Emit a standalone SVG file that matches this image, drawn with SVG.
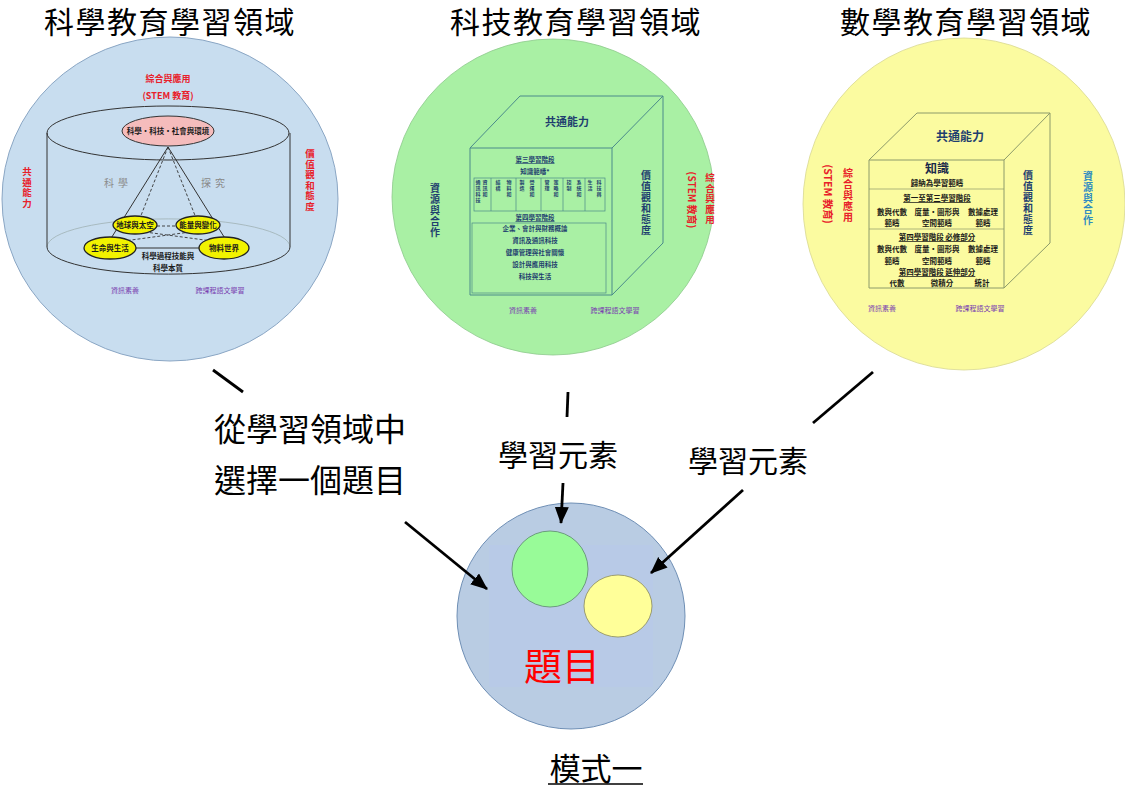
<svg xmlns="http://www.w3.org/2000/svg" width="1125" height="787" viewBox="0 0 1125 787">
<style>
.t{font-family:"Noto Sans CJK TC","Noto Sans CJK SC",sans-serif;}
.title{font-size:30px;fill:#000;text-anchor:middle;letter-spacing:1.5px;}
.big{fill:#000;text-anchor:middle;}
.red{fill:#e8202a;font-weight:bold;}
.blue{fill:#1f3f6f;font-weight:bold;}
.pur{fill:#7a3fb0;font-size:7px;text-anchor:middle;}
.tiny{font-size:6.5px;font-weight:bold;text-anchor:middle;fill:#1f3f6f;}
.sm{font-size:7.5px;font-weight:bold;text-anchor:middle;fill:#1a1a1a;}
.v{text-anchor:middle;}
.vt{writing-mode:vertical-rl;text-anchor:start;}
.col{writing-mode:vertical-rl;text-anchor:start;font-size:5px;font-weight:bold;fill:#1f3f6f;letter-spacing:1px;}
.cyl{fill:none;stroke:#333;stroke-width:1;}
.yel{fill:#f2f200;stroke:#222;stroke-width:1.3;}
.cubeG{fill:none;stroke:#4a8a8a;stroke-width:1;}
.cubeY{fill:none;stroke:#8c9a6a;stroke-width:1;}
.conn{stroke:#000;stroke-width:2.8;fill:none;}
</style>
<defs>
<marker id="ah" markerUnits="userSpaceOnUse" markerWidth="20" markerHeight="16" refX="16" refY="7" orient="auto">
<path d="M0,0 L17,7 L0,14 Z" fill="#000"/>
</marker>
</defs>
<rect width="1125" height="787" fill="#fff"/>

<g id="titles" class="t">
<text class="title t" x="170" y="33">科學教育學習領域</text>
<text class="title t" x="576" y="33">科技教育學習領域</text>
<text class="title t" x="966" y="33">數學教育學習領域</text>
</g>

<g id="science" class="t">
<ellipse cx="170" cy="199" rx="168" ry="162" fill="#c8ddef" stroke="#8aa6c4" stroke-width="1"/>
<text class="red v" x="168" y="82" font-size="9">綜合與應用</text>
<text class="red v" x="168" y="99" font-size="9" font-weight="normal">(STEM 教育)</text>
<path d="M47,247 A121,28 0 0 1 290,247" fill="none" stroke="#9aa" stroke-width="0.7"/>
<ellipse class="cyl" cx="168" cy="133" rx="121" ry="27"/>
<line class="cyl" x1="47" y1="133" x2="47" y2="247"/>
<line class="cyl" x1="290" y1="133" x2="290" y2="247"/>
<path class="cyl" d="M47,247 A121,27 0 0 0 290,247"/>
<line x1="168" y1="147" x2="110" y2="240" stroke="#333" stroke-width="1"/>
<line x1="168" y1="147" x2="226" y2="240" stroke="#333" stroke-width="1"/>
<line x1="168" y1="147" x2="140" y2="218" stroke="#333" stroke-width="0.9" stroke-dasharray="3,2"/>
<line x1="168" y1="147" x2="196" y2="218" stroke="#333" stroke-width="0.9" stroke-dasharray="3,2"/>
<line x1="157" y1="226" x2="176" y2="226" stroke="#333" stroke-width="0.9" stroke-dasharray="3,2"/>
<line x1="145" y1="232" x2="212" y2="241" stroke="#333" stroke-width="0.9" stroke-dasharray="3,2"/>
<line x1="190" y1="232" x2="124" y2="241" stroke="#333" stroke-width="0.9" stroke-dasharray="3,2"/>
<line x1="134" y1="248" x2="200" y2="248" stroke="#333" stroke-width="1"/>
<ellipse cx="168" cy="131" rx="46" ry="15" fill="#f5bcbc" stroke="#333" stroke-width="1"/>
<text class="sm" x="168" y="134" font-size="6">科學・科技・社會與環境</text>
<text x="118" y="187" font-size="10" fill="#8a8a8a" text-anchor="middle" letter-spacing="4">科學</text>
<text x="215" y="187" font-size="10" fill="#8a8a8a" text-anchor="middle" letter-spacing="4">探究</text>
<ellipse class="yel" cx="135" cy="225" rx="22" ry="9"/>
<ellipse class="yel" cx="198" cy="225" rx="22" ry="9"/>
<ellipse class="yel" cx="110" cy="248" rx="26" ry="11"/>
<ellipse class="yel" cx="224" cy="248" rx="25" ry="11"/>
<text class="sm" x="135" y="228" font-size="6">地球與太空</text>
<text class="sm" x="198" y="228" font-size="6">能量與變化</text>
<text class="sm" x="110" y="251" font-size="6">生命與生活</text>
<text class="sm" x="224" y="251" font-size="6">物料世界</text>
<text class="sm" x="168" y="259">科學過程技能與</text>
<text class="sm" x="168" y="271">科學本質</text>
<text class="pur t" x="125" y="293">資訊素養</text>
<text class="pur t" x="220" y="293">跨課程語文學習</text>
<text class="red vt" x="27" y="167" font-size="9.5" letter-spacing="1">共通能力</text>
<text class="red vt" x="310" y="149" font-size="9.5" letter-spacing="1">價值觀和態度</text>
</g>

<g id="technology" class="t">
<ellipse cx="553" cy="197" rx="161" ry="158" fill="#a9f0a4" stroke="#8cc98a" stroke-width="0.8"/>
<path class="cubeG" d="M470,148 L520,96 L663,96 L612,148 Z M663,96 L663,243 L612,295 M470,148 L470,295 L612,295 L612,148"/>
<text class="blue v" x="567" y="126" font-size="11">共通能力</text>
<text class="tiny" x="535" y="162" text-decoration="underline">第三學習階段</text>
<text class="tiny" x="535" y="174">知識範疇*</text>
<rect x="474" y="178" width="131" height="33" fill="none" stroke="#4a8a8a" stroke-width="0.7"/>
<path d="M491,178 V211 M516,178 V211 M541,178 V211 M563,178 V211 M585,178 V211" stroke="#4a8a8a" stroke-width="0.7"/>
<text class="col" x="478" y="180">通訊科技</text>
<text class="col" x="485" y="180">資訊和</text>
<text class="col" x="498" y="180">結構</text>
<text class="col" x="509" y="180">物料和</text>
<text class="col" x="522" y="180">製造</text>
<text class="col" x="532" y="180">營運和</text>
<text class="col" x="547" y="180">管理</text>
<text class="col" x="556" y="180">策略和</text>
<text class="col" x="569" y="180">控制</text>
<text class="col" x="579" y="180">系統和</text>
<text class="col" x="590" y="180">生活</text>
<text class="col" x="599" y="180">科技與</text>
<text class="tiny" x="535" y="220" text-decoration="underline">第四學習階段</text>
<rect x="472" y="223" width="134" height="70" fill="none" stroke="#4a8a8a" stroke-width="0.7"/>
<text class="tiny" x="535" y="231">企業、會計與財務概論</text>
<text class="tiny" x="535" y="243">資訊及通訊科技</text>
<text class="tiny" x="535" y="255">健康管理與社會關懷</text>
<text class="tiny" x="535" y="267">設計與應用科技</text>
<text class="tiny" x="535" y="279">科技與生活</text>
<text class="blue vt" x="435" y="183" font-size="10" letter-spacing="1">資源與合作</text>
<text class="blue vt" x="646" y="170" font-size="10" letter-spacing="1">價值觀和態度</text>
<text class="red vt" x="710" y="173" font-size="9.5" font-weight="normal" letter-spacing="1">綜合與應用</text>
<text class="red v" font-size="10" transform="translate(688,200) rotate(90)" x="0" y="0">(STEM 教育)</text>
<text class="pur t" x="523" y="313">資訊素養</text>
<text class="pur t" x="615" y="313">跨課程語文學習</text>
</g>

<g id="mathematics" class="t">
<ellipse cx="964" cy="204" rx="161" ry="166" fill="#fbfba0" stroke="#d8d890" stroke-width="0.8"/>
<path class="cubeY" d="M869,160 L917,113 L1050,113 L1004,160 Z M1050,113 L1050,243 L1004,288 M869,160 L869,288 L1004,288 L1004,160"/>
<line x1="869" y1="189" x2="1004" y2="189" stroke="#8c9a6a" stroke-width="0.7"/>
<line x1="869" y1="229" x2="1004" y2="229" stroke="#8c9a6a" stroke-width="0.7"/>
<text class="blue v" x="960" y="141" font-size="12">共通能力</text>
<text class="v" x="937" y="173" font-size="12" font-weight="bold" fill="#1a2a4a">知識</text>
<text class="sm" x="937" y="186">歸納為學習範疇</text>
<g class="sm" font-size="6.5">
<text x="937" y="201" text-decoration="underline">第一至第三學習階段</text>
<text x="892" y="215">數與代數</text><text x="937" y="215">度量·圖形與</text><text x="983" y="215">數據處理</text>
<text x="892" y="226">範疇</text><text x="937" y="226">空間範疇</text><text x="983" y="226">範疇</text>
<text x="937" y="240" text-decoration="underline">第四學習階段 必修部分</text>
<text x="892" y="252">數與代數</text><text x="937" y="252">度量·圖形與</text><text x="983" y="252">數據處理</text>
<text x="892" y="264">範疇</text><text x="937" y="264">空間範疇</text><text x="983" y="264">範疇</text>
<text x="937" y="275" text-decoration="underline">第四學習階段 延伸部分</text>
<text x="897" y="286">代數</text><text x="942" y="286">微積分</text><text x="982" y="286">統計</text>
</g>
<text class="blue vt" x="1028" y="170" font-size="10" letter-spacing="1">價值觀和態度</text>
<text class="vt" x="1088" y="171" font-size="10" fill="#2e8bc0" font-weight="bold" letter-spacing="1">資源與合作</text>
<text class="red vt" x="848" y="168" font-size="10" font-weight="normal" letter-spacing="1">綜合與應用</text>
<text class="red v" font-size="10.5" transform="translate(824,194) rotate(90)" x="0" y="0">(STEM 教育)</text>
<text class="pur t" x="882" y="311">資訊素養</text>
<text class="pur t" x="980" y="311">跨課程語文學習</text>
</g>

<g id="topic" class="t">
<ellipse cx="571" cy="616" rx="114" ry="113" fill="#b9cce3" stroke="#6f8fb5" stroke-width="1"/>
<rect x="489" y="545" width="164" height="142" fill="#b8c8ea" opacity="0.6"/>
<circle cx="550" cy="569" r="38" fill="#98fb98" stroke="#5a8a6a" stroke-width="0.8"/>
<ellipse cx="618" cy="606" rx="34" ry="31" fill="#ffff99" stroke="#8a8a5a" stroke-width="0.8"/>
<text x="562" y="680" font-size="38" fill="#ff0000" text-anchor="middle">題目</text>
</g>

<g id="connectors">
<line class="conn" x1="213" y1="370" x2="243" y2="392" stroke-width="2.5"/>
<line class="conn" x1="568" y1="392" x2="567" y2="417" stroke-width="2.5"/>
<line class="conn" x1="873" y1="372" x2="813" y2="423" stroke-width="2.5"/>
<line class="conn" x1="405" y1="522" x2="487" y2="589" marker-end="url(#ah)"/>
<line class="conn" x1="563" y1="483" x2="561" y2="523" marker-end="url(#ah)"/>
<line class="conn" x1="743" y1="490" x2="651" y2="573" marker-end="url(#ah)"/>
</g>

<g id="labels" class="t">
<text class="big t" x="310" y="441" font-size="32">從學習領域中</text>
<text class="big t" x="310" y="492" font-size="32">選擇一個題目</text>
<text class="big t" x="558" y="466" font-size="30">學習元素</text>
<text class="big t" x="748" y="472" font-size="30">學習元素</text>
</g>

<g id="caption" class="t">
<text x="596" y="780" font-size="31" text-anchor="middle" fill="#000">模式一</text>
<line x1="548" y1="784" x2="643" y2="784" stroke="#000" stroke-width="1.5"/>
</g>
</svg>
